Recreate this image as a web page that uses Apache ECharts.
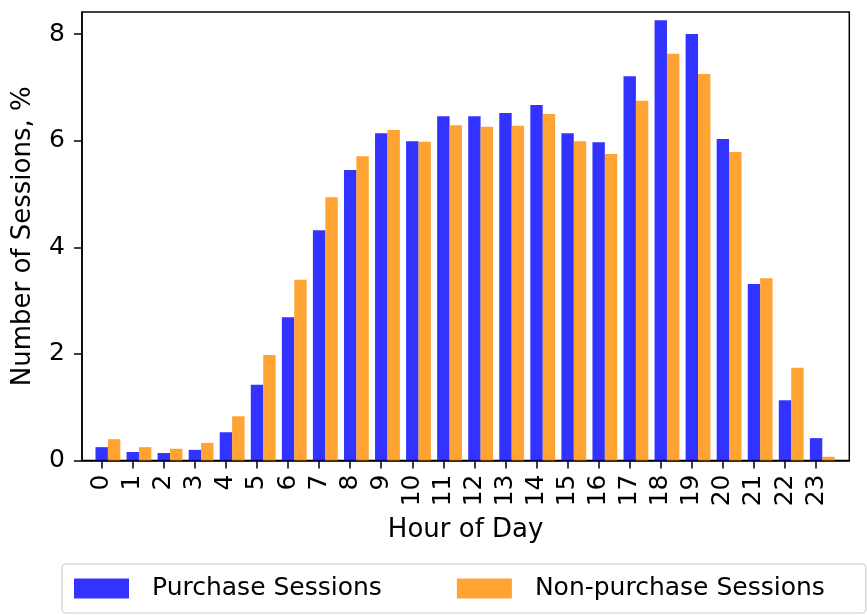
<!DOCTYPE html>
<html>
<head>
<meta charset="utf-8">
<script src="https://cdn.jsdelivr.net/npm/echarts@6/dist/echarts.min.js"></script>
<style>
  html, body { margin: 0; padding: 0; background: #ffffff; }
  #chart { width: 867px; height: 615px; }
</style>
</head>
<body>
<div id="chart"></div>
<script>
// Share of sessions (%) by hour of day
const hours = ['0', '1', '2', '3', '4', '5', '6', '7', '8', '9', '10', '11',
               '12', '13', '14', '15', '16', '17', '18', '19', '20', '21', '22', '23'];
const purchaseSessions = [0.25, 0.16, 0.14, 0.20, 0.53, 1.42, 2.69, 4.32, 5.45, 6.14, 5.99, 6.46,
                          6.46, 6.52, 6.67, 6.14, 5.97, 7.21, 8.26, 8.00, 6.03, 3.31, 1.13, 0.42];
const nonPurchaseSessions = [0.40, 0.25, 0.22, 0.33, 0.83, 1.98, 3.39, 4.94, 5.71, 6.20, 5.98, 6.29,
                             6.26, 6.28, 6.50, 5.99, 5.75, 6.75, 7.63, 7.25, 5.79, 3.42, 1.74, 0.07];
const yTicks = [0, 2, 4, 6, 8];

// Each bar is 0.4 hour wide; the second series sits one bar-width to the right of the hour.
const BAR_UNITS = 0.4;
const FONT = 'DejaVu Sans';

const hourIndex = hours.map((h, i) => i);
const purchaseData = hours.map((h, i) => [i, purchaseSessions[i]]);
const nonPurchaseData = hours.map((h, i) => [i + BAR_UNITS, nonPurchaseSessions[i]]);

const chart = echarts.init(document.getElementById('chart'), null, { renderer: 'canvas' });

const option = {
  animation: false,
  backgroundColor: '#ffffff',
  grid: {
    left: 82, right: 17.7, top: 12, bottom: 154.5,
    show: true, borderColor: '#000000', borderWidth: 1.5,
    containLabel: false, outerBoundsMode: 'none'
  },
  xAxis: {
    type: 'value',
    min: -0.634, max: 24.07,
    name: 'Hour of Day',
    nameLocation: 'middle',
    nameGap: 57,
    nameTextStyle: { fontSize: 26, color: '#000', fontFamily: FONT },
    splitLine: { show: false },
    axisLine: { show: true, onZero: false, lineStyle: { color: '#000', width: 1.5 } },
    axisTick: {
      show: true, length: 8, inside: false, customValues: hourIndex,
      lineStyle: { color: '#000', width: 1.5 }
    },
    axisLabel: {
      customValues: hourIndex,
      rotate: 90,
      margin: 14,
      fontSize: 25, color: '#000', fontFamily: FONT,
      formatter: v => hours[Math.round(v)]
    }
  },
  yAxis: {
    type: 'value',
    min: 0, max: 8.415,
    name: 'Number of Sessions, %',
    nameLocation: 'middle',
    nameRotate: 90,
    nameGap: 46,
    nameTextStyle: { fontSize: 26, color: '#000', fontFamily: FONT },
    splitLine: { show: false },
    axisLine: { show: true, onZero: false, lineStyle: { color: '#000', width: 1.5 } },
    axisTick: {
      show: true, length: 8, inside: false, customValues: yTicks,
      lineStyle: { color: '#000', width: 1.5 }
    },
    axisLabel: {
      customValues: yTicks,
      margin: 17,
      fontSize: 25, color: '#000', fontFamily: FONT
    }
  },
  legend: {
    left: 62, top: 564,
    orient: 'horizontal',
    icon: 'rect',
    itemWidth: 55, itemHeight: 20, itemGap: 75,
    padding: [12, 41, 12, 12],
    borderColor: '#cccccc', borderWidth: 1.2, borderRadius: 4,
    backgroundColor: '#ffffff',
    textStyle: { fontSize: 25, color: '#000', fontFamily: FONT, padding: [0, 0, 0, 18] },
    data: ['Purchase Sessions', 'Non-purchase Sessions']
  },
  series: [
    {
      name: 'Purchase Sessions',
      type: 'bar',
      data: purchaseData,
      barWidth: 12.4,
      barGap: '-100%',
      itemStyle: { color: 'rgba(0, 0, 255, 0.8)' }
    },
    {
      name: 'Non-purchase Sessions',
      type: 'bar',
      data: nonPurchaseData,
      barWidth: 12.4,
      barGap: '-100%',
      itemStyle: { color: 'rgba(255, 140, 0, 0.8)' }
    }
  ]
};

chart.setOption(option);
</script>
</body>
</html>
